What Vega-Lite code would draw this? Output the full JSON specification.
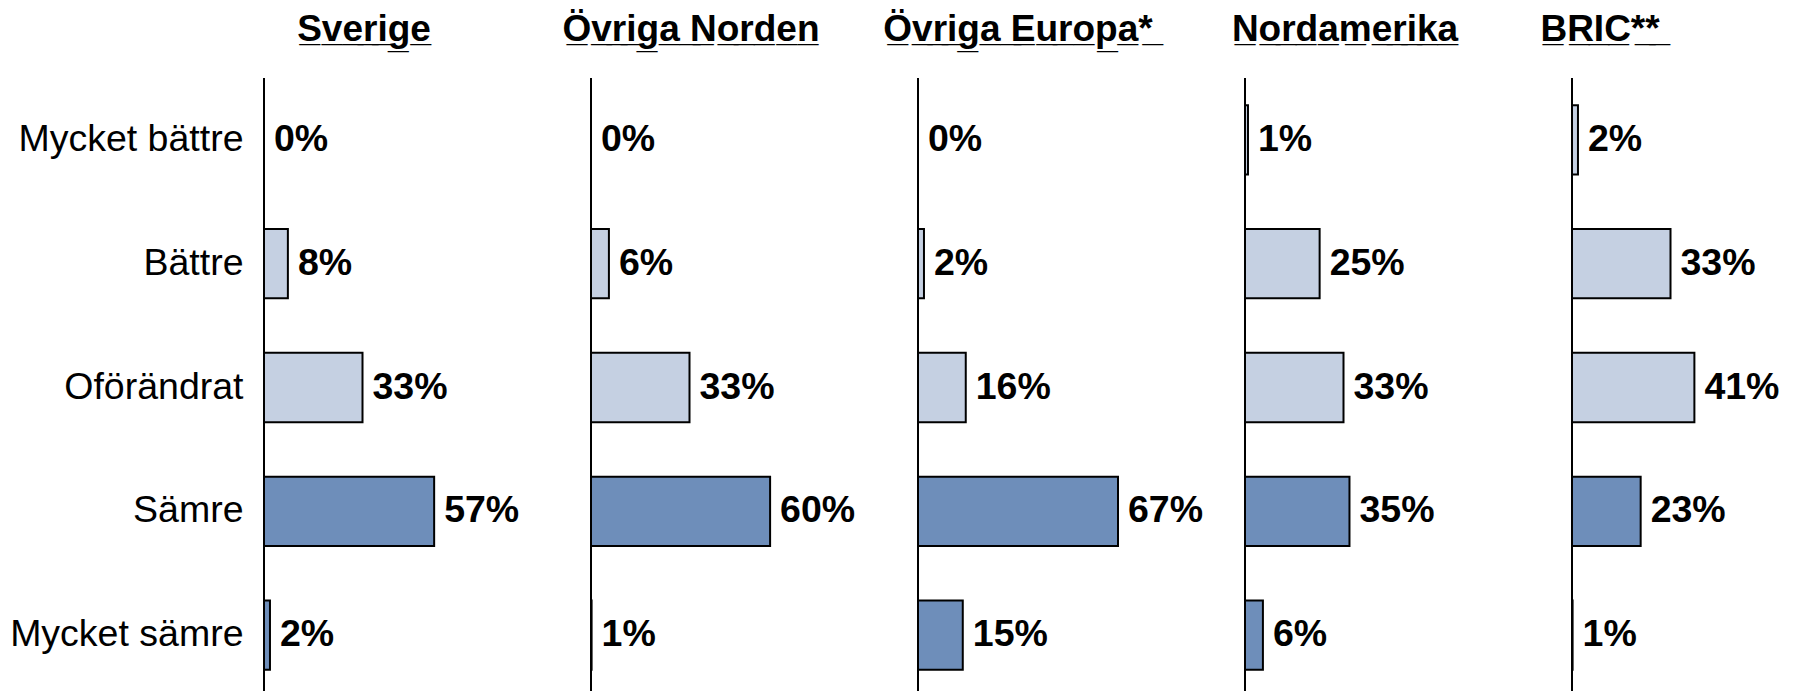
{
  "$schema": "https://vega.github.io/schema/vega-lite/v6.json",
  "background": "white",
  "bounds": "flush",
  "padding": {"left": 9, "top": 11, "right": 5, "bottom": 0},
  "data": {
    "values": [
      {"region": "Sverige", "category": "Mycket bättre", "value": 0, "label": "0%"},
      {"region": "Sverige", "category": "Bättre", "value": 8, "label": "8%"},
      {"region": "Sverige", "category": "Oförändrat", "value": 33, "label": "33%"},
      {"region": "Sverige", "category": "Sämre", "value": 57, "label": "57%"},
      {"region": "Sverige", "category": "Mycket sämre", "value": 2, "label": "2%"},
      {"region": "Övriga Norden", "category": "Mycket bättre", "value": 0, "label": "0%"},
      {"region": "Övriga Norden", "category": "Bättre", "value": 6, "label": "6%"},
      {"region": "Övriga Norden", "category": "Oförändrat", "value": 33, "label": "33%"},
      {"region": "Övriga Norden", "category": "Sämre", "value": 60, "label": "60%"},
      {"region": "Övriga Norden", "category": "Mycket sämre", "value": 0.2, "label": "1%"},
      {"region": "Övriga Europa*", "category": "Mycket bättre", "value": 0, "label": "0%"},
      {"region": "Övriga Europa*", "category": "Bättre", "value": 2, "label": "2%"},
      {"region": "Övriga Europa*", "category": "Oförändrat", "value": 16, "label": "16%"},
      {"region": "Övriga Europa*", "category": "Sämre", "value": 67, "label": "67%"},
      {"region": "Övriga Europa*", "category": "Mycket sämre", "value": 15, "label": "15%"},
      {"region": "Nordamerika", "category": "Mycket bättre", "value": 1, "label": "1%"},
      {"region": "Nordamerika", "category": "Bättre", "value": 25, "label": "25%"},
      {"region": "Nordamerika", "category": "Oförändrat", "value": 33, "label": "33%"},
      {"region": "Nordamerika", "category": "Sämre", "value": 35, "label": "35%"},
      {"region": "Nordamerika", "category": "Mycket sämre", "value": 6, "label": "6%"},
      {"region": "BRIC**", "category": "Mycket bättre", "value": 2, "label": "2%"},
      {"region": "BRIC**", "category": "Bättre", "value": 33, "label": "33%"},
      {"region": "BRIC**", "category": "Oförändrat", "value": 41, "label": "41%"},
      {"region": "BRIC**", "category": "Sämre", "value": 23, "label": "23%"},
      {"region": "BRIC**", "category": "Mycket sämre", "value": 0.2, "label": "1%"}
    ]
  },
  "facet": {
    "column": {
      "field": "region",
      "type": "nominal",
      "sort": ["Sverige", "Övriga Norden", "Övriga Europa*", "Nordamerika", "BRIC**"],
      "header": {
        "title": null,
        "labelOrient": "top",
        "labelFont": "Liberation Sans",
        "labelFontWeight": "bold",
        "labelFontSize": 37,
        "labelColor": "black",
        "labelPadding": 29,
        "labelLimit": 0,
        "labelExpr": "replace(datum.value, regexp('(.)', 'g'), '$1\u0332') + (datum.value == 'BRIC**' ? '\u00a0\u00a0\u00a0\u00a0\u00a0\u00a0\u00a0\u00a0\u00a0\u00a0\u00a0\u00a0\u00a0\u00a0\u200b' : '')"
      }
    }
  },
  "spacing": 127,
  "spec": {
    "width": 200,
    "height": 619,
    "layer": [
      {
        "mark": {"type": "bar", "stroke": "black", "strokeWidth": 2},
        "encoding": {
          "y": {
            "field": "category",
            "type": "nominal",
            "sort": ["Mycket bättre", "Bättre", "Oförändrat", "Sämre", "Mycket sämre"],
            "scale": {"paddingInner": 0.44, "paddingOuter": 0.22},
            "axis": {
              "title": null,
              "domain": false,
              "ticks": false,
              "labelFont": "Liberation Sans",
              "labelFontSize": 37.5,
              "labelColor": "black",
              "labelPadding": 21,
              "labelLimit": 0
            }
          },
          "x": {"field": "value", "type": "quantitative", "scale": {"domain": [0, 67], "nice": false}, "axis": null},
          "color": {
            "field": "category",
            "type": "nominal",
            "scale": {
              "domain": ["Mycket bättre", "Bättre", "Oförändrat", "Sämre", "Mycket sämre"],
              "range": ["#C5D0E2", "#C5D0E2", "#C5D0E2", "#6E8EBA", "#6E8EBA"]
            },
            "legend": null
          }
        }
      },
      {
        "mark": {"type": "text", "align": "left", "baseline": "middle", "dx": 10, "font": "Liberation Sans", "fontWeight": "bold", "fontSize": 37.5, "color": "black"},
        "encoding": {
          "y": {
            "field": "category",
            "type": "nominal",
            "sort": ["Mycket bättre", "Bättre", "Oförändrat", "Sämre", "Mycket sämre"]
          },
          "x": {"field": "value", "type": "quantitative"},
          "text": {"field": "label"}
        }
      },
      {
        "mark": {"type": "rule", "color": "black", "strokeWidth": 2},
        "encoding": {"x": {"datum": 0}}
      }
    ]
  },
  "config": {"view": {"stroke": null}}
}
